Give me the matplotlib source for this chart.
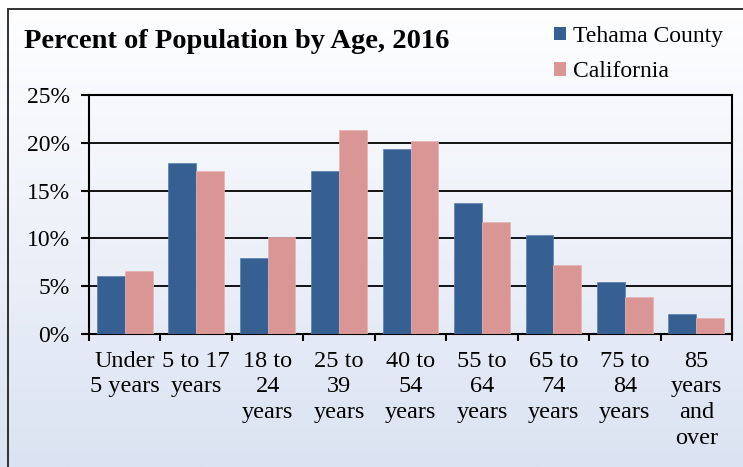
import numpy as np
import matplotlib
matplotlib.use("Agg")
import matplotlib.pyplot as plt
from matplotlib.patches import Rectangle, Patch
from matplotlib.ticker import FuncFormatter

# Values (percent of population)
categories = ["Under\n5 years", "5 to 17\nyears", "18 to\n24\nyears", "25 to\n39\nyears",
              "40 to\n54\nyears", "55 to\n64\nyears", "65 to\n74\nyears", "75 to\n84\nyears",
              "85\nyears\nand\nover"]
tehama = [6.1, 17.9, 7.9, 17.1, 19.3, 13.7, 10.4, 5.4, 2.1]
california = [6.6, 17.1, 10.1, 21.3, 20.2, 11.7, 7.2, 3.9, 1.7]
series_names = ["Tehama County", "California"]
title = "Percent of Population by Age, 2016"

BLUE = "#366092"
PINK = "#D99694"
W, H = 743, 467

plt.rcParams["font.family"] = ["Liberation Serif", "DejaVu Serif"]

fig = plt.figure(figsize=(W / 100, H / 100), dpi=100)

# background gradient, white at top to pale blue at bottom
bg = fig.add_axes([0, 0, 1, 1], zorder=-2)
grad = np.linspace(0, 1, 256)[:, None]
top = np.array([1.0, 1.0, 1.0])
bot = np.array([219, 227, 242]) / 255.0
img = top[None, None, :] * (1 - grad[..., None]) + bot[None, None, :] * grad[..., None]
bg.imshow(img, aspect="auto", extent=[0, 1, 0, 1])
bg.axis("off")

# chart border (right/bottom edges are cropped in the reference)
fig.patches.append(Rectangle((8 / W, -0.05), 1.1, 1 - 9 / H + 0.05, transform=fig.transFigure,
                             fill=False, edgecolor="#303030", linewidth=1.4))

ax = fig.add_axes([89 / W, 1 - 334 / H, (732 - 89) / W, (334 - 95) / H])
ax.patch.set_alpha(0)

x = np.arange(len(categories))
bw = 0.39
ax.bar(x - bw / 2, tehama, bw, color=BLUE, edgecolor="#5a7fae", linewidth=0.5, zorder=3)
ax.bar(x + bw / 2, california, bw, color=PINK, edgecolor="#e6b4b2", linewidth=0.5, zorder=3)

ax.set_xlim(-0.5, len(categories) - 0.5)
ax.set_ylim(0, 25)
ax.set_yticks(np.arange(0, 26, 5))
ax.yaxis.set_major_formatter(FuncFormatter(lambda v, p: f"{v:.0f}%"))
ax.grid(axis="y", color="black", linewidth=1.3, zorder=1)
ax.set_axisbelow(True)

ax.set_xticks(np.arange(-0.5, len(categories), 1.0))
ax.set_xticklabels([])
ax.set_xticks(x, minor=True)
ax.set_xticklabels(categories, minor=True, linespacing=1.3, fontsize=17.5)
ax.tick_params(axis="x", which="major", direction="out", length=5, width=1.5, color="black")
ax.tick_params(axis="x", which="minor", length=0, pad=12)
ax.tick_params(axis="y", direction="out", length=6, width=1.5, pad=8, labelsize=17)

for s in ax.spines.values():
    s.set_color("black")
    s.set_linewidth(1.5)

fig.text(24 / W, 1 - 41 / H, title, fontsize=20.5, fontweight="bold", va="center", ha="left")

handles = [Patch(facecolor=BLUE), Patch(facecolor=PINK)]
fig.legend(handles, series_names, loc="upper left", bbox_to_anchor=(554 / W, 1 - 26 / H),
           frameon=False, fontsize=17, handlelength=0.5, handleheight=0.5,
           handletextpad=0.3, labelspacing=0.6, borderpad=0, borderaxespad=0)

fig.savefig("out.png", dpi=100)
